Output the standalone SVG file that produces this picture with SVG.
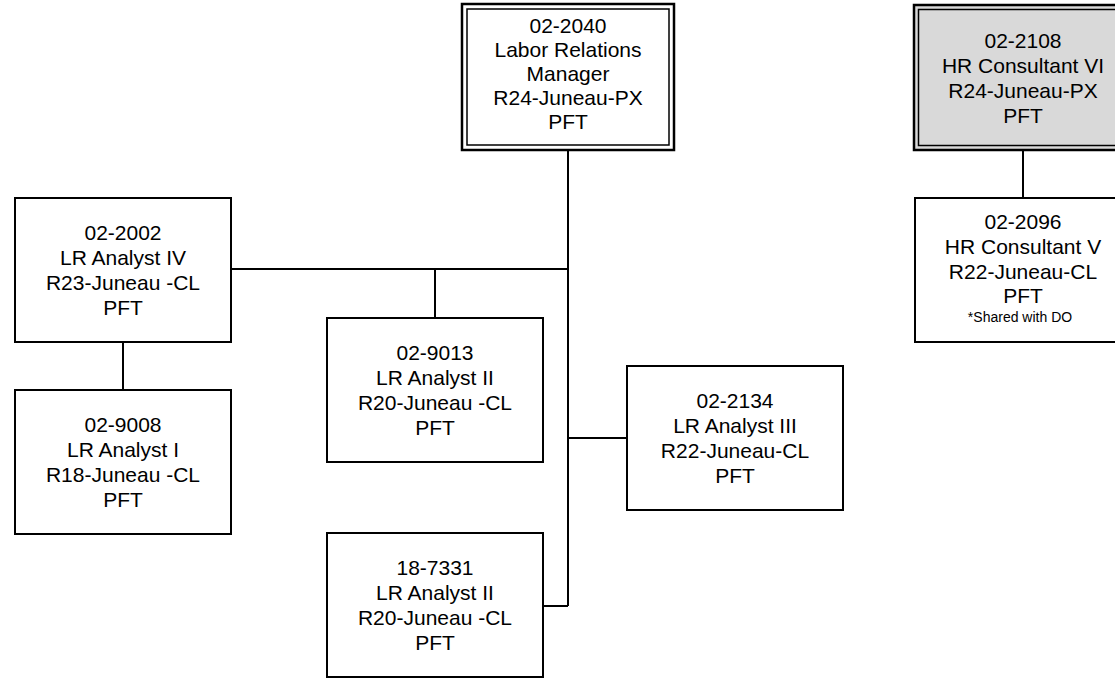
<svg xmlns="http://www.w3.org/2000/svg" width="1115" height="678" viewBox="0 0 1115 678">
<style>
.box{fill:#ffffff;stroke:#000000;stroke-width:2}
.shade{fill:#d9d9d9;stroke:#000000;stroke-width:2.5}
.inner{fill:none;stroke:#000000;stroke-width:1.5}
.conn{fill:none;stroke:#000000;stroke-width:2}
text{font-family:"Liberation Sans",Arial,sans-serif;font-size:21px;fill:#000000;text-anchor:middle}
.small{font-size:14px}
</style>
<rect width="1115" height="678" fill="#ffffff"/>
<g id="connectors">
<path class="conn" d="M568 150 V606"/>
<path class="conn" d="M231 269 H568"/>
<path class="conn" d="M435 269 V318"/>
<path class="conn" d="M568 438 H627"/>
<path class="conn" d="M543 606 H568"/>
<path class="conn" d="M123 342 V390"/>
<path class="conn" d="M1023 150 V198"/>
</g>
<g id="n-02-2040">
<rect x="462" y="4" width="212" height="146" fill="#ffffff" stroke="#000" stroke-width="2.5"/>
<rect class="inner" x="467" y="9" width="202" height="136"/>
<text x="568" y="33">02-2040</text>
<text x="568" y="57">Labor Relations</text>
<text x="568" y="81">Manager</text>
<text x="568" y="105">R24-Juneau-PX</text>
<text x="568" y="129">PFT</text>
</g>
<g id="n-02-2108">
<rect class="shade" x="914" y="5" width="218" height="145"/>
<rect class="inner" x="918.5" y="9.5" width="209" height="136"/>
<text x="1023" y="48">02-2108</text>
<text x="1023" y="73">HR Consultant VI</text>
<text x="1023" y="98">R24-Juneau-PX</text>
<text x="1023" y="123">PFT</text>
</g>
<g id="n-02-2096">
<rect class="box" x="915" y="198" width="216" height="144"/>
<text x="1023" y="229">02-2096</text>
<text x="1023" y="254">HR Consultant V</text>
<text x="1023" y="279">R22-Juneau-CL</text>
<text x="1023" y="303">PFT</text>
<text class="small" x="1020" y="322">*Shared with DO</text>
</g>
<g id="n-02-2002">
<rect class="box" x="15" y="198" width="216" height="144"/>
<text x="123" y="240">02-2002</text>
<text x="123" y="265">LR Analyst IV</text>
<text x="123" y="290">R23-Juneau -CL</text>
<text x="123" y="315">PFT</text>
</g>
<g id="n-02-9008">
<rect class="box" x="15" y="390" width="216" height="144"/>
<text x="123" y="432">02-9008</text>
<text x="123" y="457">LR Analyst I</text>
<text x="123" y="482">R18-Juneau -CL</text>
<text x="123" y="507">PFT</text>
</g>
<g id="n-02-9013">
<rect class="box" x="327" y="318" width="216" height="144"/>
<text x="435" y="360">02-9013</text>
<text x="435" y="385">LR Analyst II</text>
<text x="435" y="410">R20-Juneau -CL</text>
<text x="435" y="435">PFT</text>
</g>
<g id="n-02-2134">
<rect class="box" x="627" y="366" width="216" height="144"/>
<text x="735" y="408">02-2134</text>
<text x="735" y="433">LR Analyst III</text>
<text x="735" y="458">R22-Juneau-CL</text>
<text x="735" y="483">PFT</text>
</g>
<g id="n-18-7331">
<rect class="box" x="327" y="533" width="216" height="144"/>
<text x="435" y="575">18-7331</text>
<text x="435" y="600">LR Analyst II</text>
<text x="435" y="625">R20-Juneau -CL</text>
<text x="435" y="650">PFT</text>
</g>
</svg>
